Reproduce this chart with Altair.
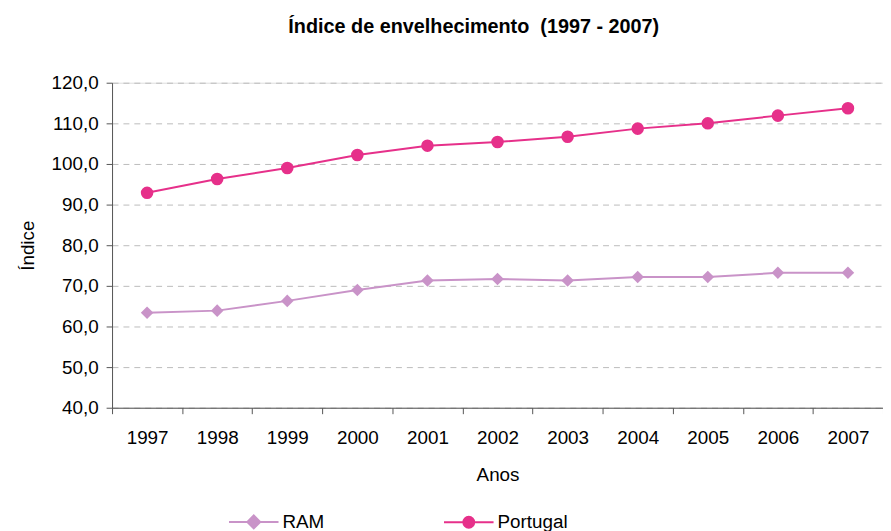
import altair as alt
import pandas as pd

anos = ["1997", "1998", "1999", "2000", "2001", "2002", "2003", "2004", "2005", "2006", "2007"]
ram = [63.4, 63.9, 66.3, 69.0, 71.3, 71.7, 71.3, 72.2, 72.2, 73.2, 73.2]
portugal = [92.9, 96.3, 99.0, 102.2, 104.5, 105.4, 106.7, 108.7, 110.0, 111.9, 113.7]
series = ["RAM", "Portugal"]
colors = ["#C993C8", "#E6308A"]

rows = []
for a, r, p in zip(anos, ram, portugal):
    rows.append({"Ano": a, "Serie": "RAM", "Valor": r})
    rows.append({"Ano": a, "Serie": "Portugal", "Valor": p})
df = pd.DataFrame(rows)

FONT = "Liberation Sans"
FS = 19

x = alt.X("Ano:N", title="Anos",
          scale=alt.Scale(type="band", paddingInner=0, paddingOuter=0),
          axis=alt.Axis(labelAngle=0, tickBand="extent", labelFontSize=FS, titleFontSize=FS,
                        labelPadding=15, titlePadding=18, tickSize=6, domainColor="#555555",
                        tickColor="#555555", labelColor="#000000", titleColor="#000000",
                        titleFontWeight="normal", labelFont=FONT, titleFont=FONT, grid=False))
y = alt.Y("Valor:Q", title="Índice",
          scale=alt.Scale(domain=[40, 120], nice=False, zero=False),
          axis=alt.Axis(values=[40, 50, 60, 70, 80, 90, 100, 110, 120],
                        labelExpr="replace(format(datum.value, '.1f'), '.', ',')",
                        labelFontSize=FS, titleFontSize=FS, labelPadding=8, tickSize=6,
                        titlePadding=14, domainColor="#555555", tickColor="#555555",
                        labelColor="#000000", titleColor="#000000", titleFontWeight="normal",
                        labelFont=FONT, titleFont=FONT, grid=True, gridDash=[6, 5],
                        gridColor="#BBBBBB", gridWidth=1))

color_nolegend = alt.Color("Serie:N", scale=alt.Scale(domain=series, range=colors), legend=None)

base = alt.Chart(df)

lines = base.mark_line(strokeWidth=2).encode(x=x, y=y, color=color_nolegend, detail="Serie:N")

pts = base.mark_point(filled=True, opacity=1, size=160).encode(
    x=x, y=y, color=color_nolegend,
    shape=alt.Shape("Serie:N", scale=alt.Scale(domain=series, range=["diamond", "circle"]), legend=None))


def diamond(r):
    return f"M0,{-r}L{r},0L0,{r}L{-r},0Z"


def circle(r):
    return f"M{-r},0A{r},{r} 0 1,0 {r},0A{r},{r} 0 1,0 {-r},0Z"


diamond_path = "M-1,0H1" + "".join(diamond(r) for r in [0.26, 0.19, 0.12, 0.05])
circle_path = "M-1,0H1" + "".join(circle(r) for r in [0.22, 0.15, 0.08, 0.02])

legend_cfg = alt.Legend(title=None, orient="none", legendX=117, legendY=417,
                        direction="horizontal", columnPadding=116,
                        labelFontSize=FS, labelFont=FONT, labelColor="#000000",
                        symbolSize=2500, symbolOpacity=1, symbolStrokeWidth=2,
                        symbolFillColor="transparent",
                        labelOffset=3, padding=0)

leg = base.mark_point(filled=False, opacity=0, size=10).encode(
    x=x, y=y,
    color=alt.Color("Serie:N", scale=alt.Scale(domain=series, range=colors), legend=legend_cfg),
    shape=alt.Shape("Serie:N", scale=alt.Scale(domain=series, range=[diamond_path, circle_path]),
                    legend=legend_cfg))

chart = alt.layer(lines, pts, leg).resolve_scale(shape="independent", color="independent").properties(
    width=778, height=328,
    autosize=alt.AutoSizeParams(type="none"),
    padding={"left": 105, "top": 73, "right": 0, "bottom": 122},
    title=alt.TitleParams("Índice de envelhecimento\u00a0 (1997 - 2007)", fontSize=20, fontWeight="bold",
                          font=FONT, anchor="middle", dx=-24, offset=37, color="#000000"),
).configure_view(stroke=None).configure(background="white")

chart.save("out.html", embed_options={"renderer": "svg", "actions": False})
